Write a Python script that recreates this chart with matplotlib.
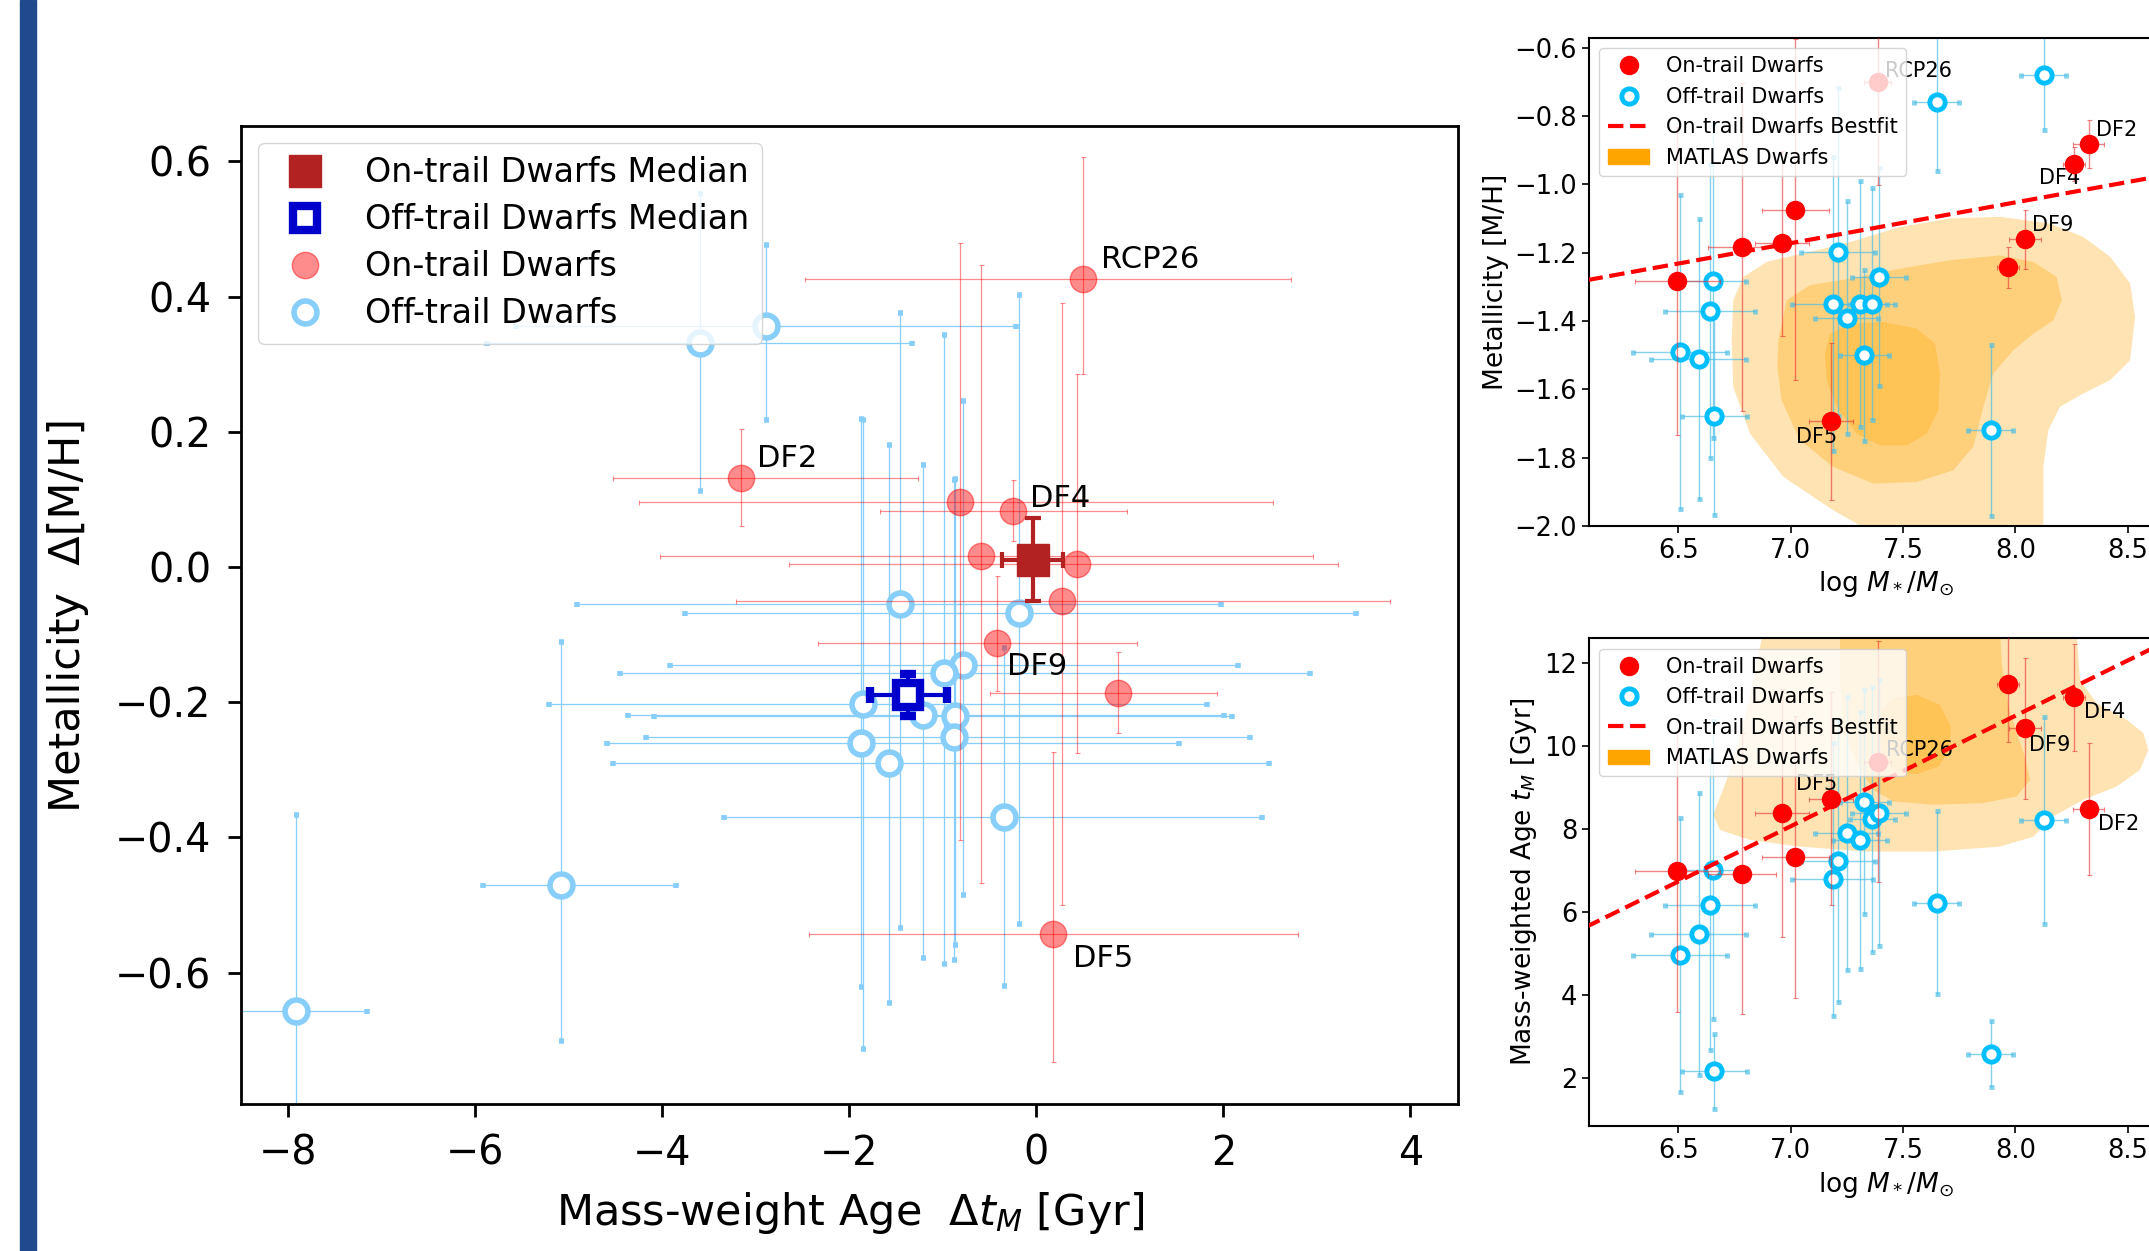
import numpy as np
import matplotlib
matplotlib.use('Agg')
from matplotlib import pyplot as plt
from matplotlib.lines import Line2D
from matplotlib.patches import Patch, Rectangle

# ---- main panel: offsets from the trail (age, metallicity) ----
on_dt = [0.50, -3.16, -0.82, -0.25, -0.59, 0.43, 0.27, -0.42, 0.87, 0.18]
on_dmh = [0.426, 0.132, 0.096, 0.083, 0.017, 0.005, -0.050, -0.113, -0.186, -0.543]
on_dt_lo = [2.97, 1.37, 3.43, 1.42, 3.43, 3.07, 3.48, 1.91, 1.37, 2.61]
on_dt_hi = [2.22, 1.89, 3.35, 1.22, 3.55, 2.80, 3.51, 1.50, 1.06, 2.62]
on_dmh_lo = [0.141, 0.072, 0.50, 0.045, 0.484, 0.28, 0.45, 0.071, 0.06, 0.19]
on_dmh_hi = [0.18, 0.072, 0.383, 0.045, 0.43, 0.28, 0.44, 0.099, 0.06, 0.27]
on_names = ['RCP26', 'DF2', '', 'DF4', '', '', '', 'DF9', '', 'DF5']
on_offsets = {'RCP26': (13, 14), 'DF2': (12, 14), 'DF4': (12, 9), 'DF9': (7, -17), 'DF5': (14, -17.5)}

off_dt = [-3.60, -2.89, -1.46, -0.19, -0.78, -0.99, -1.85, -1.21, -0.87, -0.88, -1.87, -1.58, -0.34, -5.08, -7.92]
off_dmh = [0.332, 0.357, -0.054, -0.068, -0.145, -0.157, -0.203, -0.219, -0.220, -0.251, -0.261, -0.290, -0.370, -0.471, -0.657]
off_dt_lo = [2.27, 2.67, 3.45, 3.57, 3.14, 3.46, 3.36, 3.16, 3.22, 3.29, 2.72, 2.95, 3.0, 0.84, 0.76]
off_dt_hi = [2.27, 2.67, 3.44, 3.61, 2.94, 3.92, 3.67, 3.22, 2.96, 3.17, 3.4, 4.07, 2.75, 1.23, 0.76]
off_dmh_lo = [0.22, 0.14, 0.48, 0.46, 0.34, 0.43, 0.51, 0.36, 0.34, 0.33, 0.36, 0.355, 0.25, 0.23, 0.29]
off_dmh_hi = [0.22, 0.12, 0.43, 0.47, 0.39, 0.50, 0.42, 0.37, 0.35, 0.38, 0.48, 0.47, 0.25, 0.36, 0.29]

med_on = [-0.04, 0.011]
med_on_err = [0.33, 0.062]
med_off = [-1.37, -0.189]
med_off_err = [0.41, 0.031]

# ---- right panels: stellar mass, metallicity, age ----
r_logm = [6.496, 6.784, 6.962, 7.022, 7.180, 7.389, 7.968, 8.044, 8.262, 8.327]
r_logm_err = [0.19, 0.15, 0.12, 0.15, 0.10, 0.06, 0.05, 0.07, 0.05, 0.07]
r_mh = [-1.283, -1.184, -1.173, -1.074, -1.693, -0.702, -1.243, -1.161, -0.941, -0.883]
r_mh_err = [0.45, 0.48, 0.27, 0.50, 0.23, 0.30, 0.06, 0.087, 0.05, 0.07]
r_age = [6.98, 6.93, 8.39, 7.32, 8.73, 9.63, 11.51, 10.43, 11.18, 8.49]
r_age_err = [3.4, 3.4, 3.0, 3.4, 2.57, 2.9, 1.4, 1.7, 1.3, 1.6]
r_names = ['', '', '', '', 'DF5', 'RCP26', '', 'DF9', 'DF4', 'DF2']
mh_offsets = {'DF5': (-25.5, -11.5), 'RCP26': (5, 8), 'DF9': (5, 10.5), 'DF4': (-25.5, -10), 'DF2': (5, 10.5)}
age_offsets = {'DF5': (-25.5, 11), 'RCP26': (6, 8.5), 'DF9': (3, -12), 'DF4': (7, -10.5), 'DF2': (7, -11)}

b_logm = [6.508, 6.591, 6.641, 6.655, 6.661, 7.187, 7.210, 7.250, 7.310, 7.329, 7.363, 7.393, 7.651, 7.891, 8.127]
b_logm_err = [0.21, 0.21, 0.20, 0.145, 0.145, 0.18, 0.165, 0.14, 0.12, 0.11, 0.10, 0.12, 0.10, 0.10, 0.10]
b_mh = [-1.491, -1.512, -1.371, -1.283, -1.678, -1.350, -1.199, -1.390, -1.350, -1.500, -1.350, -1.271, -0.760, -1.720, -0.681]
b_mh_err = [0.46, 0.41, 0.43, 0.46, 0.29, 0.43, 0.48, 0.34, 0.36, 0.25, 0.34, 0.32, 0.20, 0.25, 0.16]
b_age = [4.97, 5.48, 6.18, 7.01, 2.16, 6.79, 7.24, 7.90, 7.73, 8.66, 8.24, 8.39, 6.23, 2.58, 8.21]
b_age_err = [3.3, 3.4, 3.5, 3.6, 0.9, 3.3, 3.4, 3.3, 3.1, 2.7, 3.2, 3.2, 2.2, 0.8, 2.5]

# best-fit lines of the on-trail dwarfs (slope, intercept)
fit_mh = [0.1193, -2.0075]
fit_age = [2.667, -10.60]

# MATLAS density contours (outer, middle, inner)
matlas_mh_x = [
    [6.745, 6.790, 6.894, 7.116, 7.265, 7.487, 7.710, 7.932, 8.155, 8.303, 8.422, 8.511, 8.533, 8.511, 8.422, 8.303,
     8.199, 8.147, 8.125, 8.125, 7.368, 7.190, 6.968, 6.820, 6.745, 6.738],
    [6.946, 6.983, 7.087, 7.265, 7.487, 7.710, 7.932, 8.081, 8.184, 8.207, 8.170, 8.081, 7.991, 7.902, 7.858, 7.813,
     7.724, 7.561, 7.368, 7.190, 7.042, 6.960, 6.941],
    [7.153, 7.176, 7.265, 7.413, 7.561, 7.643, 7.665, 7.658, 7.606, 7.517, 7.398, 7.294, 7.205, 7.161],
]
matlas_mh_y = [
    [-1.339, -1.271, -1.227, -1.193, -1.169, -1.125, -1.100, -1.095, -1.115, -1.154, -1.212, -1.290, -1.388, -1.515,
     -1.573, -1.612, -1.651, -1.720, -1.827, -2.02, -2.02, -1.954, -1.856, -1.730, -1.593, -1.456],
    [-1.456, -1.339, -1.295, -1.276, -1.247, -1.222, -1.208, -1.227, -1.271, -1.339, -1.398, -1.437, -1.486, -1.554,
     -1.651, -1.768, -1.837, -1.871, -1.876, -1.827, -1.749, -1.632, -1.534],
    [-1.495, -1.437, -1.408, -1.403, -1.422, -1.466, -1.554, -1.661, -1.730, -1.764, -1.764, -1.730, -1.651, -1.573],
]
matlas_age_x = [
    [6.879, 8.273, 8.288, 8.362, 8.496, 8.570, 8.592, 8.555, 8.451, 8.303, 8.169, 8.081, 7.932, 7.635, 7.339, 7.042,
     6.820, 6.686, 6.656, 6.716, 6.760, 6.820],
    [7.220, 7.932, 7.940, 7.977, 8.043, 8.066, 8.006, 7.858, 7.635, 7.457, 7.368, 7.294, 7.235, 7.220],
    [7.398, 7.457, 7.561, 7.665, 7.713, 7.707, 7.658, 7.561, 7.472, 7.413, 7.391],
]
matlas_age_y = [
    [12.81, 12.81, 11.60, 11.04, 10.64, 10.32, 9.91, 9.43, 9.03, 8.71, 8.31, 7.82, 7.58, 7.46, 7.46, 7.58,
     7.74, 7.98, 8.35, 9.19, 9.99, 11.20],
    [12.81, 12.81, 12.00, 10.80, 9.75, 9.19, 8.79, 8.63, 8.59, 8.67, 8.95, 9.59, 10.40, 11.60],
    [10.80, 11.16, 11.24, 11.00, 10.48, 9.91, 9.51, 9.33, 9.39, 9.67, 10.23],
]

fig = plt.figure(figsize=(21.49, 12.51), dpi=100)
fig.add_artist(Rectangle((20 / 2149, 0), 16 / 2149, 1, transform=fig.transFigure, color='#21498d'))

# ================= main panel =================
ax = fig.add_axes([0.1123, 0.1178, 0.5662, 0.7812])
ax.errorbar(on_dt, on_dmh, xerr=[on_dt_lo, on_dt_hi], yerr=[on_dmh_lo, on_dmh_hi], fmt='o', ms=19,
            color='red', alpha=0.45, elinewidth=0.9, capsize=1.8, capthick=0.8, zorder=3)
ax.errorbar(off_dt, off_dmh, xerr=[off_dt_lo, off_dt_hi], yerr=[off_dmh_lo, off_dmh_hi], fmt='o', ms=16.5,
            mfc='white', mec='lightskyblue', mew=4, ecolor='lightskyblue', elinewidth=0.9, capsize=1.8,
            capthick=0.8, zorder=2)
ax.errorbar(med_on[0], med_on[1], xerr=med_on_err[0], yerr=med_on_err[1], fmt='s', ms=23, color='firebrick',
            elinewidth=3, capsize=6, capthick=3, zorder=5)
ax.errorbar(med_off[0], med_off[1], xerr=med_off_err[0], yerr=med_off_err[1], fmt='s', ms=17, mfc='white',
            mec='mediumblue', mew=6, ecolor='mediumblue', elinewidth=3, capsize=6, capthick=3, zorder=5)
for x, y, name in zip(on_dt, on_dmh, on_names):
    if name:
        ax.annotate(name, (x, y), xytext=on_offsets[name], textcoords='offset points',
                    ha='left', va='center', fontsize=22, zorder=6)

ax.set_xlim(-8.5, 4.51)
ax.set_ylim(-0.794, 0.652)
ax.set_xticks([-8, -6, -4, -2, 0, 2, 4])
ax.set_yticks([-0.6, -0.4, -0.2, 0.0, 0.2, 0.4, 0.6])
ax.tick_params(labelsize=28.5, length=9.6, width=2, pad=12)
for s in ax.spines.values():
    s.set_linewidth(2)
ax.set_xlabel(r'Mass-weight Age  $\Delta t_M$ [Gyr]', fontsize=31, labelpad=12)
ax.set_ylabel('Metallicity  Δ[M/H]', fontsize=31, labelpad=19)

main_handles = [
    Line2D([], [], ls='none', marker='s', ms=23, color='firebrick'),
    Line2D([], [], ls='none', marker='s', ms=17, mfc='white', mec='mediumblue', mew=6),
    Line2D([], [], ls='none', marker='o', ms=19, color='red', alpha=0.45),
    Line2D([], [], ls='none', marker='o', ms=16.5, mfc='white', mec='lightskyblue', mew=4),
]
ax.legend(main_handles, ['On-trail Dwarfs Median', 'Off-trail Dwarfs Median', 'On-trail Dwarfs', 'Off-trail Dwarfs'],
          loc='upper left', fontsize=24, labelspacing=0.42)

# ================= right panels =================
right_handles = [
    Line2D([], [], ls='none', marker='o', ms=13, color='red'),
    Line2D([], [], ls='none', marker='o', ms=11, mfc='white', mec='deepskyblue', mew=3.5),
    Line2D([], [], ls='--', lw=3, color='red'),
    Patch(color='orange'),
]
right_labels = ['On-trail Dwarfs', 'Off-trail Dwarfs', 'On-trail Dwarfs Bestfit', 'MATLAS Dwarfs']
xfit = np.array([6.0, 8.8])


def side_panel(rect, r_y, r_yerr, b_y, b_yerr, fit, cx, cy, offsets, ylim, ylabel):
    a = fig.add_axes(rect)
    for px, py in zip(cx, cy):
        a.fill(px, py, color='orange', alpha=0.3, lw=0, zorder=0)
    a.errorbar(r_logm, r_y, xerr=r_logm_err, yerr=r_yerr, fmt='o', ms=13, color='red',
               ecolor=(0.9, 0.2, 0.2, 0.6), elinewidth=1, capsize=1.8, capthick=0.8, zorder=3)
    a.errorbar(b_logm, b_y, xerr=b_logm_err, yerr=b_yerr, fmt='o', ms=11, mfc='white', mec='deepskyblue',
               mew=3.5, ecolor=(0.3, 0.75, 0.9, 0.7), elinewidth=1, capsize=1.8, capthick=0.8, zorder=2)
    a.plot(xfit, fit[0] * xfit + fit[1], ls='--', lw=3, color='red', zorder=4)
    for x, y, name in zip(r_logm, r_y, r_names):
        if name:
            a.annotate(name, (x, y), xytext=offsets[name], textcoords='offset points',
                       ha='left', va='center', fontsize=15)
    a.set_xlim(6.103, 8.75)
    a.set_ylim(*ylim)
    a.set_xticks([6.5, 7.0, 7.5, 8.0, 8.5])
    a.tick_params(labelsize=18.5, length=5, width=1.2)
    for s in a.spines.values():
        s.set_linewidth(1.5)
    a.set_xlabel(r'log $M_*/M_{\odot}$', fontsize=19)
    a.set_ylabel(ylabel, fontsize=19)
    a.legend(right_handles, right_labels, loc='upper left', fontsize=15)
    return a


ax_mh = side_panel([0.7394, 0.5795, 0.2768, 0.3904], r_mh, r_mh_err, b_mh, b_mh_err, fit_mh,
                   matlas_mh_x, matlas_mh_y, mh_offsets, (-2.0, -0.571), 'Metallicity [M/H]')
ax_mh.set_yticks([-2.0, -1.8, -1.6, -1.4, -1.2, -1.0, -0.8, -0.6])
ax_age = side_panel([0.7394, 0.0998, 0.2768, 0.3901], r_age, r_age_err, b_age, b_age_err, fit_age,
                    matlas_age_x, matlas_age_y, age_offsets, (0.835, 12.61), r'Mass-weighted Age $t_M$ [Gyr]')
ax_age.set_yticks([2, 4, 6, 8, 10, 12])

plt.savefig('out.png', dpi=100)
plt.close()
